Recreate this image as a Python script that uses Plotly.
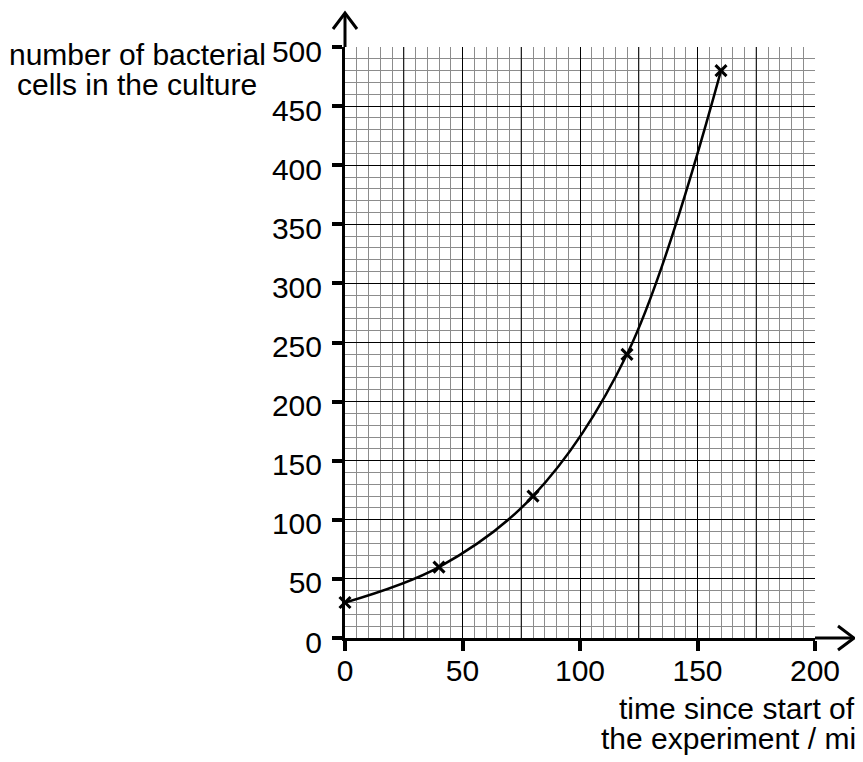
import plotly.graph_objects as go

# time since start of the experiment (min) and number of bacterial cells
time_min = [0, 40, 80, 120, 160]
cells = [30, 60, 120, 240, 480]

x_ticks = [0, 50, 100, 150, 200]
y_ticks = [0, 50, 100, 150, 200, 250, 300, 350, 400, 450, 500]

FONT = "Liberation Sans, Arial, sans-serif"

# page pixels of the plot area; the html body adds an 8px margin
OFF = 8
X0, X1, Y0, Y1 = 345, 815, 638, 47
W, H = 863 - OFF, 762 - OFF
PW, PH = X1 - X0, Y0 - Y1


def px(x):
    return (x - X0) / PW


def py(y):
    return (Y0 - y) / PH


fig = go.Figure()

fig.add_trace(go.Scatter(
    x=time_min, y=cells,
    mode="lines+markers",
    line=dict(color="black", width=2.5, shape="spline", smoothing=1.0),
    marker=dict(symbol="x-thin", size=11, line=dict(color="black", width=3)),
    cliponaxis=False,
    showlegend=False,
))

axis_common = dict(
    showgrid=True,
    gridcolor="black",
    gridwidth=1,
    zeroline=False,
    showline=True,
    linecolor="black",
    linewidth=3,
    ticks="outside",
    ticklen=10,
    tickwidth=4,
    tickcolor="black",
    tickfont=dict(family=FONT, size=30, color="black"),
)

fig.update_xaxes(
    range=[0, 200], tickvals=x_ticks, ticklabelstandoff=-6,
    minor=dict(dtick=5, showgrid=True, gridcolor="#8c8c8c", gridwidth=1, ticks=""),
    **axis_common,
)
fig.update_yaxes(
    range=[0, 500], tickvals=y_ticks, ticklabelshift=4, ticklabelstandoff=4,
    minor=dict(dtick=10, showgrid=True, gridcolor="#8c8c8c", gridwidth=1, ticks=""),
    **axis_common,
)

shapes = []
# black lines at every 25 min (between the labelled ticks)
for xv in range(25, 200, 50):
    shapes.append(dict(type="line", xref="x", yref="paper", x0=xv, x1=xv, y0=0, y1=1,
                       line=dict(color="black", width=1), layer="above"))

arrow = dict(color="black", width=3)
# y axis extension and arrow head
shapes.append(dict(type="line", xref="paper", yref="paper", x0=0, x1=0,
                   y0=1, y1=py(13), line=arrow))
shapes.append(dict(type="path", xref="paper", yref="paper",
                   path=f"M {px(333)} {py(29)} L {px(345)} {py(13)} L {px(357)} {py(29)}",
                   line=arrow))
# x axis extension and arrow head
shapes.append(dict(type="line", xref="paper", yref="paper", x0=1, x1=px(854),
                   y0=0, y1=0, line=arrow))
shapes.append(dict(type="path", xref="paper", yref="paper",
                   path=f"M {px(838)} {py(626)} L {px(854)} {py(638)} L {px(838)} {py(650)}",
                   line=arrow))

txt = dict(family=FONT, size=30, color="black")
annotations = [
    dict(text="number of bacterial", x=px(137), y=py(55)),
    dict(text="cells in the culture", x=px(137), y=py(84)),
    dict(text="time since start of", x=px(737), y=py(708)),
    dict(text="the experiment / min", x=px(737), y=py(738)),
]
for a in annotations:
    a.update(xref="paper", yref="paper", xanchor="center", yanchor="middle",
             showarrow=False, font=txt)

fig.update_layout(
    width=W, height=H,
    margin=dict(l=X0 - OFF, r=W - (X1 - OFF), t=Y1 - OFF, b=H - (Y0 - OFF)),
    paper_bgcolor="white",
    plot_bgcolor="white",
    shapes=shapes,
    annotations=annotations,
)

fig.write_html("out.html")
